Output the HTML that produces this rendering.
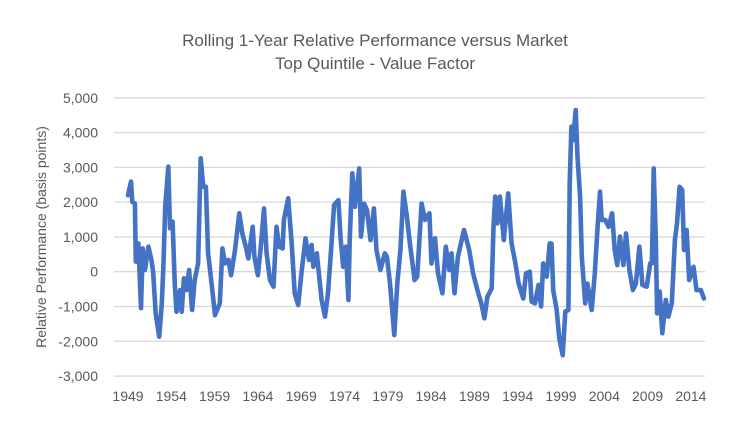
<!DOCTYPE html>
<html><head><meta charset="utf-8">
<style>
html,body{margin:0;padding:0;background:#fff;}
svg{display:block;font-family:"Liberation Sans",Arial,sans-serif;}
</style></head>
<body>
<svg id="chart" width="750" height="421" viewBox="0 0 750 421">
  <text x="375" y="46" text-anchor="middle" font-size="17" fill="#595959">Rolling 1-Year Relative Performance versus Market</text>
  <text x="375" y="69" text-anchor="middle" font-size="17" fill="#595959">Top Quintile - Value Factor</text>
  <g id="grid"></g>
  <g id="yticks"></g>
  <g id="xticks"></g>
  <text transform="translate(46,237) rotate(-90)" text-anchor="middle" font-size="14" fill="#595959">Relative Performance (basis points)</text>
  <path id="series" fill="none" stroke="#4472c4" stroke-width="4.6" stroke-linejoin="round" stroke-linecap="round"></path>
</svg>
<script>
const years = [1949.0,1949.35,1949.5,1949.8,1949.9,1950.2,1950.5,1950.7,1950.95,1951.35,1951.7,1951.9,1952.2,1952.6,1952.9,1953.1,1953.3,1953.65,1953.85,1954.15,1954.4,1954.6,1955.0,1955.2,1955.45,1955.75,1956.05,1956.4,1956.7,1957.1,1957.4,1957.7,1958.0,1958.25,1958.65,1959.05,1959.6,1959.9,1960.2,1960.6,1960.9,1961.35,1961.85,1962.2,1962.6,1962.9,1963.4,1963.6,1964.0,1964.3,1964.7,1965.0,1965.4,1965.8,1966.15,1966.45,1966.85,1967.0,1967.5,1967.9,1968.25,1968.65,1969.05,1969.5,1969.9,1970.2,1970.4,1970.8,1971.35,1971.75,1972.1,1972.5,1972.8,1973.3,1973.55,1973.85,1974.15,1974.45,1974.6,1974.9,1975.2,1975.7,1975.9,1976.25,1976.6,1977.0,1977.4,1977.7,1978.15,1978.65,1978.9,1979.25,1979.75,1980.1,1980.45,1980.8,1981.2,1981.55,1982.1,1982.4,1982.9,1983.3,1983.8,1984.05,1984.45,1984.8,1985.3,1985.7,1986.1,1986.35,1986.7,1987.1,1987.8,1988.4,1988.85,1989.45,1989.8,1990.15,1990.5,1991.0,1991.2,1991.4,1991.65,1991.95,1992.4,1992.9,1993.3,1993.7,1994.1,1994.65,1994.96,1995.4,1995.6,1996.0,1996.4,1996.7,1996.95,1997.35,1997.7,1997.9,1998.1,1998.5,1998.8,1999.2,1999.5,1999.85,2000.0,2000.2,2000.4,2000.7,2000.9,2001.2,2001.4,2001.8,2002.05,2002.55,2002.9,2003.2,2003.5,2003.7,2004.1,2004.5,2004.9,2005.2,2005.5,2005.8,2006.2,2006.5,2006.9,2007.3,2007.65,2008.05,2008.4,2008.9,2009.3,2009.5,2009.7,2009.95,2010.1,2010.4,2010.7,2011.1,2011.4,2011.8,2012.15,2012.4,2012.7,2013.0,2013.2,2013.5,2013.8,2014.3,2014.65,2015.15,2015.5];
const values = [2200,2590,2010,1960,290,810,-1050,670,50,720,340,0,-1200,-1870,-910,240,1870,3020,1250,1440,-380,-1150,-530,-1150,-190,-530,50,-1100,-240,240,3260,2440,2440,530,-340,-1250,-910,670,240,340,-100,620,1680,1100,720,380,1290,430,-100,620,1820,530,-240,-430,1290,720,670,1490,2110,810,-620,-960,0,960,340,770,140,530,-810,-1290,-620,810,1920,2060,960,140,720,-810,910,2830,1870,2970,1010,1960,1770,910,1820,620,50,530,430,-340,-1820,-340,620,2300,1580,810,-240,-140,1960,1490,1680,240,960,-50,-620,720,50,530,-620,430,1200,620,-50,-620,-910,-1340,-720,-480,1290,2160,1390,2160,910,2250,810,290,-340,-770,-50,0,-860,-910,-380,-1000,240,-140,810,810,-530,-1100,-1920,-2400,-1150,-1100,2540,4170,3780,4650,3300,2160,430,-910,-340,-1100,-50,1200,2300,1490,1490,1290,1680,620,190,1010,190,1100,50,-530,-340,720,-380,-430,240,240,2970,910,-1200,-570,-1770,-810,-1290,-910,910,1390,2440,2350,620,1200,-240,140,-530,-530,-770];
const yTicks = [5000,4000,3000,2000,1000,0,-1000,-2000,-3000];
const yTickLabels = ["5,000","4,000","3,000","2,000","1,000","0","-1,000","-2,000","-3,000"];
const xTicks = [1949,1954,1959,1964,1969,1974,1979,1984,1989,1994,1999,2004,2009,2014];

const NS = "http://www.w3.org/2000/svg";
function yScale(v){ return 271.7 - v * 0.03478; }
function xScale(yr){ return 128 + (yr - 1949) * 8.66; }

const grid = document.getElementById('grid');
const yt = document.getElementById('yticks');
yTicks.forEach((v,i)=>{
  const l = document.createElementNS(NS,'line');
  
  
  l.setAttribute('x1',114); l.setAttribute('x2',705);
  l.setAttribute('y1',yScale(v)); l.setAttribute('y2',yScale(v));
  l.setAttribute('stroke','#d9d9d9'); l.setAttribute('stroke-width','1.3');
  grid.appendChild(l);
  const t = document.createElementNS(NS,'text');
  
  
  t.setAttribute('x',98); t.setAttribute('y',yScale(v)+5);
  t.setAttribute('text-anchor','end'); t.setAttribute('font-size','14'); t.setAttribute('fill','#595959');
  t.textContent = yTickLabels[i];
  yt.appendChild(t);
});
const xt = document.getElementById('xticks');
xTicks.forEach(yr=>{
  const t = document.createElementNS(NS,'text');
  
  
  t.setAttribute('x',xScale(yr)); t.setAttribute('y',401);
  t.setAttribute('text-anchor','middle'); t.setAttribute('font-size','14'); t.setAttribute('fill','#595959');
  t.textContent = yr;
  xt.appendChild(t);
});
let d = '';
years.forEach((yr,i)=>{ d += (i? 'L':'M') + xScale(yr).toFixed(1) + ' ' + yScale(values[i]).toFixed(1) + ' '; });
document.getElementById('series').setAttribute('d', d);
</script>
</body></html>
